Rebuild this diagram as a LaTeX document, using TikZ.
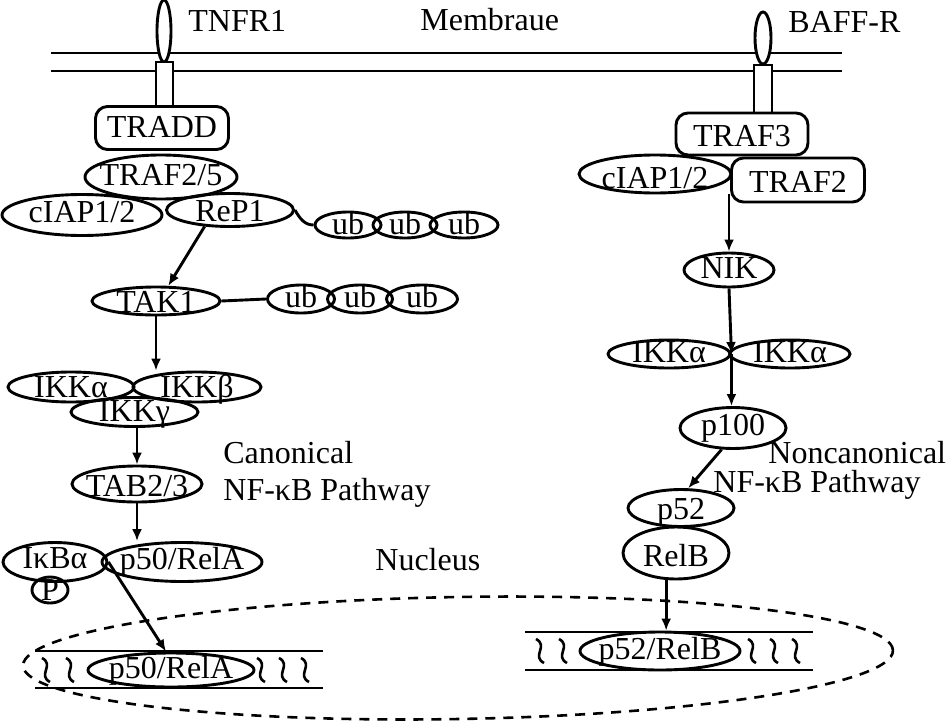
\documentclass[tikz,border=0pt]{standalone}
\usepackage{fontspec}
\setmainfont{Liberation Serif}
\usetikzlibrary{shapes.geometric, arrows.meta}
\tikzset{
  lw/.style={line width=1.45pt},
  prot/.style={ellipse, draw, lw, inner sep=0pt},
  rbox/.style={rectangle, rounded corners=6pt, draw, lw, inner sep=0pt, fill=white},
  arr/.style={lw, -{Latex[length=6pt,width=5pt]}},
  lbl/.style={inner sep=0pt},
  rec/.style={draw, lw, fill=white, inner sep=0pt},
  nucl/.style={line width=1.3pt, dash pattern=on 5pt off 4pt},
  squig/.pic={\draw[line width=1.3pt] (-4,-12) .. controls (9,-5) and (-9,5) .. (4,12);},
}
\newcommand\ctext[2][0.33em]{\makebox[0pt]{\raisebox{-#1}[0pt][0pt]{#2}}}
\newcommand\prt[6][0.33em]{\node[prot, minimum width=#4pt, minimum height=#5pt] (#2) at (#3) {\ctext[#1]{#6}};}
\begin{document}
\begin{tikzpicture}[x=0.5pt, y=-0.5pt, font=\fontsize{16}{19}\selectfont]
\useasboundingbox (0,0) rectangle (946,722);

% nucleus
\draw[nucl] (458,658) ellipse [x radius=217.5pt, y radius=30.5pt, rotate=1];
\node[lbl, anchor=base west] (nuc) at (375,570) {Nucleus};

% membrane
\draw[lw] (51,53) -- (842,53);
\draw[lw] (51,71) -- (842,71);
\node[lbl, anchor=base west] (memb) at (420,31) {Membraue};

% receptors
\node[rec, ellipse, minimum width=7pt, minimum height=31pt] (tnfr) at (164,31) {};
\node[rec, rectangle, minimum width=8.5pt, minimum height=22.5pt] (tnfrb) at (164.5,84.5) {};
\node[lbl, anchor=base west] (tnfrl) at (188,32) {TNFR1};
\node[rec, ellipse, minimum width=8pt, minimum height=26pt] (baff) at (763,38) {};
\node[rec, rectangle, minimum width=9pt, minimum height=24pt] (baffb) at (763,89) {};
\node[lbl, anchor=base west] (baffl) at (788,33) {BAFF-R};

% canonical pathway
\node[rbox, minimum width=66.5pt, minimum height=21.5pt] (tradd) at (162,128) {\ctext[0.31em]{TRADD}};
\prt[0.28em]{traf25}{161,177}{76}{22}{TRAF2/5}
\prt[0.22em]{ciapL}{82,215}{80}{20.5}{cIAP1/2}
\prt[0.36em]{rep}{230,210}{63.5}{16.5}{ReP1}
\prt[0.3em]{ua}{348,225}{33}{13}{ub}
\prt[0.3em]{ub}{405,225}{32}{13}{ub}
\prt[0.3em]{uc}{464,225}{34}{13}{ub}
\draw[lw] (rep.east) to[out=-60, in=180] (ua.west);

\prt[0.37em]{tak}{156,301}{64}{14}{TAK1}
\prt[0.28em]{va}{301,299}{33.5}{14}{ub}
\prt[0.28em]{vb}{360,299}{32.5}{14}{ub}
\prt[0.28em]{vc}{422,299}{35.5}{14}{ub}
\draw[lw] (tak.east) -- (va.west);
\draw[arr] (rep.213) -- (tak.51);

\prt{ikka}{71,387}{63}{15}{IKKα}
\prt{ikkb}{197,387}{64}{15}{IKKβ}
\prt[0.31em]{ikkg}{134.5,412}{63.5}{14.5}{IKKγ}
\draw[arr] (tak.south) -- (tak.south |- ikkb.north);

\prt[0.4em]{tab}{137,484}{65}{18}{TAB2/3}
\draw[arr] (tab.north |- ikkg.south) -- (tab.north);
\node[lbl, anchor=base west] (canl1) at (223,463) {Canonical};
\node[lbl, anchor=base west] (canl2) at (223,500) {NF-κB Pathway};

\prt[0.2em]{ikb}{55,562}{52}{19.5}{IκBα}
\prt[0.22em]{p50}{182,562}{80}{19.5}{p50/RelA}
\node[prot, minimum width=18pt, minimum height=13pt] (phos) at (50,590) {\ctext[0.34em]{P}};
\draw[arr] (tab.south) -- (tab.south |- p50.north);

% left DNA
\draw[lw] (35,651) -- (323,651);
\draw[lw] (35,688) -- (323,688);
\prt[0.25em]{dna1}{171,670}{83}{17}{p50/RelA}
\pic at (46,670) {squig};
\pic at (70,670) {squig};
\pic at (261,670) {squig};
\pic at (283,670) {squig};
\pic at (305,670) {squig};
\draw[arr] (ikb.east) -- (dna1.105);

% noncanonical pathway
\node[rbox, minimum width=66pt, minimum height=21pt] (traf3) at (742,134) {\ctext[0.38em]{TRAF3}};
\prt[0.45em]{ciapR}{655,174}{76}{19}{cIAP1/2}
\node[rbox, minimum width=66.5pt, minimum height=22pt] (traf2) at (798,180) {\ctext[0.4em]{TRAF2}};
\prt[0.25em]{nik}{729,270}{45}{17}{NIK}
\draw[arr] (nik.north |- ciapR.south) -- (nik.north);

\prt[0.28em]{ikkaL}{669,354}{61}{14}{IKKα}
\prt[0.28em]{ikkaR}{790,354}{60}{14}{IKKα}
\draw[arr] (nik.south) -- (ikkaL.east);

\prt[0.22em]{p100}{733,428}{53}{20.5}{p100}
\draw[arr] (ikkaL.east) -- (ikkaL.east |- p100.north);
\node[lbl, anchor=base west] (ncl1) at (768,463) {Noncanonical};
\node[lbl, anchor=base west] (ncl2) at (713,492) {NF-κB Pathway};

\prt[0.36em]{p52}{681,508}{53}{18.5}{p52}
\prt[0.42em]{relb}{676,553}{53}{26}{RelB}
\draw[arr] (p100.242) -- (p52.70);

% right DNA
\draw[lw] (525,632) -- (813,632);
\draw[lw] (525,670) -- (813,670);
\prt[0.28em]{dna2}{660,651}{80}{19}{p52/RelB}
\pic at (540,651) {squig};
\pic at (563,651) {squig};
\pic at (752,651) {squig};
\pic at (774,651) {squig};
\pic at (796,651) {squig};
\draw[arr] (relb.250) -- (relb.250 |- dna2.north);
\end{tikzpicture}
\end{document}
